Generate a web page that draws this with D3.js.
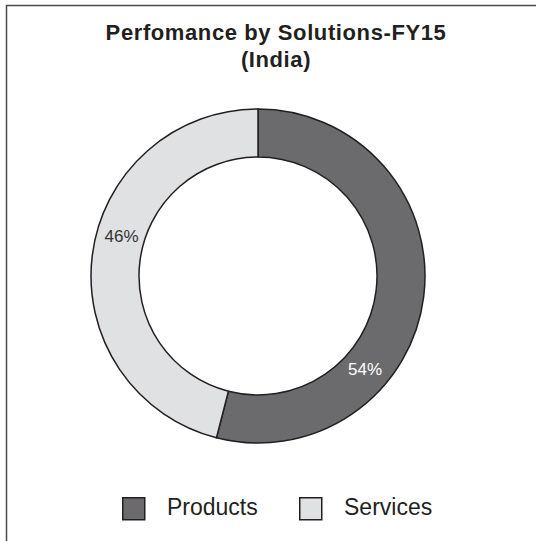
<!DOCTYPE html>
<html>
<head>
<meta charset="utf-8">
<script src="https://cdn.jsdelivr.net/npm/d3@7"></script>
<style>
  body { margin: 0; background: #fff; }
  svg { display: block; }
  text { font-family: "Liberation Sans", Arial, Helvetica, sans-serif; }
</style>
</head>
<body>
<div id="chart"></div>
<script>
const categories = ['Products', 'Services'];
const values = [54, 46];
const colors = ['#6b6b6e', '#e0e1e3'];
const labelColors = ['#ffffff', '#333333'];
const titleLines = ['Perfomance by Solutions-FY15', '(India)'];

const width = 537, height = 541;
const cx = 258, cy = 276;
const outerRadius = 167, innerRadius = 119;
const stroke = '#231f20';

const svg = d3.select('#chart')
  .append('svg')
  .attr('width', width)
  .attr('height', height);

// frame (only top and left edges are visible in the crop)
svg.append('path')
  .attr('d', `M6.5,541 L6.5,5.5 L536,5.5`)
  .attr('fill', 'none')
  .attr('stroke', '#4a4a4a')
  .attr('stroke-width', 1.5);

// title
svg.append('text')
  .attr('text-anchor', 'middle')
  .attr('font-weight', 'bold')
  .attr('font-size', 22)
  .attr('letter-spacing', 0.6)
  .attr('fill', '#231f20')
  .selectAll('tspan')
  .data(titleLines)
  .enter()
  .append('tspan')
  .attr('x', 276)
  .attr('y', (d, i) => 40 + i * 27)
  .text(d => d);

const pie = d3.pie()
  .sort(null)
  .value(d => d);

const arc = d3.arc()
  .outerRadius(outerRadius)
  .innerRadius(innerRadius);

const g = svg.append('g')
  .attr('transform', `translate(${cx},${cy})`);

const arcs = pie(values);

g.selectAll('path')
  .data(arcs)
  .enter()
  .append('path')
  .attr('d', arc)
  .attr('fill', (d, i) => colors[i])
  .attr('stroke', stroke)
  .attr('stroke-width', 1.5);

// label placement: fraction along each slice, like the source chart
const labelFrac = [0.674, 0.553];
const labelR = (outerRadius + innerRadius) / 2 - 1;
const labelAngle = (d, i) => d.startAngle + (d.endAngle - d.startAngle) * labelFrac[i];

g.selectAll('text.pct')
  .data(arcs)
  .enter()
  .append('text')
  .attr('class', 'pct')
  .attr('text-anchor', 'middle')
  .attr('dominant-baseline', 'central')
  .attr('font-size', 17)
  .attr('fill', (d, i) => labelColors[i])
  .attr('x', (d, i) => labelR * Math.sin(labelAngle(d, i)))
  .attr('y', (d, i) => -labelR * Math.cos(labelAngle(d, i)))
  .text(d => d.data + '%');

// legend
const legendX = [122, 299];
const legend = svg.selectAll('g.legend')
  .data(categories)
  .enter()
  .append('g')
  .attr('class', 'legend')
  .attr('transform', (d, i) => `translate(${legendX[i]},497)`);

legend.append('rect')
  .attr('x', 0.75)
  .attr('y', 0.75)
  .attr('width', 22)
  .attr('height', 22)
  .attr('fill', (d, i) => colors[i])
  .attr('stroke', stroke)
  .attr('stroke-width', 1.5);

legend.append('text')
  .attr('x', 45)
  .attr('y', 18)
  .attr('font-size', 23)
  .attr('fill', '#231f20')
  .text(d => d);
</script>
</body>
</html>
